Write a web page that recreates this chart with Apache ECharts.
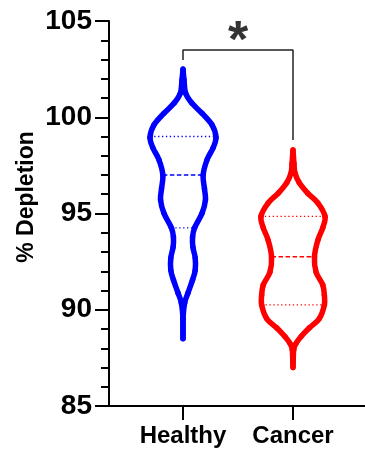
<!DOCTYPE html>
<html>
<head>
<meta charset="utf-8">
<title>% Depletion violin</title>
<script src="https://cdn.jsdelivr.net/npm/echarts@6/dist/echarts.min.js"></script>
<style>
  html, body { margin: 0; padding: 0; background: #fff; }
  #chart { width: 365px; height: 457px; }
</style>
</head>
<body>
<div id="chart"></div>
<script>
// groups on the x axis
var groups = ['Healthy', 'Cancer'];
var groupPos = [1, 2];

// violin outline: depletion level and relative density (widest = 1)
var healthyLevel = [102.5, 101.95, 101.25, 100.75, 100.2, 99.6, 98.95, 98.4, 97.8, 97.0, 96.3, 95.7, 95.03, 94.25, 93.78, 93.25, 92.69, 92.06, 91.55, 90.87, 90.35, 89.5, 88.5];
var healthyDensity = [0, 0.03, 0.08, 0.26, 0.58, 0.88, 1.0, 0.91, 0.73, 0.61, 0.65, 0.68, 0.58, 0.35, 0.29, 0.3, 0.37, 0.37, 0.29, 0.15, 0.05, 0, 0];
var cancerLevel = [98.3, 97.6, 97.1, 96.6, 96.05, 95.55, 94.85, 94.25, 93.6, 92.75, 91.95, 91.3, 90.75, 90.25, 89.55, 89.05, 88.6, 88.25, 87.9, 87.0];
var cancerDensity = [0, 0.03, 0.06, 0.19, 0.45, 0.75, 0.97, 0.9, 0.75, 0.65, 0.7, 0.9, 0.95, 0.95, 0.8, 0.49, 0.24, 0.09, 0.02, 0];

// quartiles: Q1, median, Q3
var healthyQuart = [94.25, 97.0, 99.0];
var cancerQuart = [90.25, 92.75, 94.85];

// significance bracket and y ticks
var bracketLevel = [102.97, 103.49, 98.82];
var starLevel = 103.85;
var yTicks = [85, 90, 95, 100, 105];

var colors = ['#0000ff', '#ff0000'];
var violins = [
  { level: healthyLevel, density: healthyDensity, quart: healthyQuart },
  { level: cancerLevel, density: cancerDensity, quart: cancerQuart }
];
var halfWidth = 0.3; // x units at density 1

// density at a level, linear between outline points
function densityAt(v, level, density) {
  for (var i = 0; i < level.length - 1; i++) {
    var a = level[i], b = level[i + 1];
    if (v <= a && v >= b) {
      var t = (a - v) / (a - b);
      return density[i] + t * (density[i + 1] - density[i]);
    }
  }
  return 0;
}

// smooth outline through pixel points (catmull-rom as bezier pieces)
function curvePieces(pts, color) {
  var out = [];
  var n = pts.length;
  for (var i = 0; i < n - 1; i++) {
    var p0 = pts[Math.max(i - 1, 0)];
    var p1 = pts[i];
    var p2 = pts[i + 1];
    var p3 = pts[Math.min(i + 2, n - 1)];
    out.push({
      type: 'bezierCurve',
      shape: {
        x1: p1[0], y1: p1[1],
        cpx1: p1[0] + (p2[0] - p0[0]) / 6, cpy1: p1[1] + (p2[1] - p0[1]) / 6,
        cpx2: p2[0] - (p3[0] - p1[0]) / 6, cpy2: p2[1] - (p3[1] - p1[1]) / 6,
        x2: p2[0], y2: p2[1]
      },
      style: { fill: null, stroke: color, lineWidth: 5.5, lineCap: 'round' }
    });
  }
  return out;
}

function renderViolin(params, api) {
  var idx = api.value(0);
  var vi = violins[idx];
  var xc = groupPos[idx];
  var left = [], right = [];
  for (var i = 0; i < vi.level.length; i++) {
    var w = vi.density[i] * halfWidth;
    left.push(api.coord([xc - w, vi.level[i]]));
    right.unshift(api.coord([xc + w, vi.level[i]]));
  }
  var children = [];
  // quartile lines (dotted) and median (dashed)
  for (var q = 0; q < 3; q++) {
    var v = vi.quart[q];
    var w2 = densityAt(v, vi.level, vi.density) * halfWidth;
    var p1 = api.coord([xc - w2, v]);
    var p2 = api.coord([xc + w2, v]);
    children.push({
      type: 'line',
      shape: { x1: p1[0], y1: p1[1], x2: p2[0], y2: p2[1] },
      style: {
        stroke: colors[idx],
        lineWidth: q == 1 ? 1.5 : 1.3,
        lineDash: q == 1 ? [4.5, 2.5] : [1.3, 2.6]
      }
    });
  }
  var outline = left.concat(right.slice(1));
  children = children.concat(curvePieces(outline, colors[idx]));
  return { type: 'group', children: children };
}

var chart = echarts.init(document.getElementById('chart'));
var option = {
  animation: false,
  grid: { left: 109, right: 0, top: 21, bottom: 51, containLabel: false },
  xAxis: {
    type: 'value',
    min: 0.3273,
    max: 2.6545,
    splitLine: { show: false },
    axisLine: { lineStyle: { color: '#000', width: 2 } },
    axisTick: { show: true, customValues: groupPos, length: 14, lineStyle: { color: '#000', width: 2 } },
    axisLabel: {
      customValues: groupPos,
      formatter: function (v) { return groups[Math.round(v) - 1]; },
      color: '#000',
      fontSize: 24,
      fontWeight: 'bold',
      fontFamily: 'Liberation Sans',
      margin: 18
    }
  },
  yAxis: {
    type: 'value',
    min: yTicks[0],
    max: yTicks[yTicks.length - 1],
    interval: 5,
    splitLine: { show: false },
    axisLine: { show: true, lineStyle: { color: '#000', width: 2 } },
    axisTick: { show: true, length: 14, lineStyle: { color: '#000', width: 2 } },
    minorTick: { show: true, splitNumber: 5, length: 8, lineStyle: { color: '#000', width: 2 } },
    axisLabel: {
      color: '#000',
      fontSize: 28,
      fontWeight: 'bold',
      fontFamily: 'Liberation Sans',
      margin: 17
    }
  },
  graphic: [{
    type: 'text',
    x: 27,
    y: 197,
    rotation: Math.PI / 2,
    style: {
      text: '% Depletion',
      font: 'bold 23px "Liberation Sans"',
      fill: '#000',
      textAlign: 'center',
      textVerticalAlign: 'middle'
    }
  }],
  series: [
    {
      type: 'custom',
      renderItem: renderViolin,
      clip: false,
      silent: true,
      data: [[0], [1]]
    },
    {
      type: 'line',
      silent: true,
      symbol: 'none',
      lineStyle: { color: '#222', width: 1.5 },
      data: [
        [groupPos[0], bracketLevel[0]],
        [groupPos[0], bracketLevel[1]],
        [groupPos[1], bracketLevel[1]],
        [groupPos[1], bracketLevel[2]]
      ]
    },
    {
      type: 'scatter',
      silent: true,
      symbolSize: 0,
      data: [[(groupPos[0] + groupPos[1]) / 2, starLevel]],
      label: {
        show: true,
        position: 'inside',
        formatter: '*',
        color: '#000',
        fontSize: 52,
        fontWeight: 'bold',
        fontFamily: 'Liberation Sans'
      }
    }
  ]
};
chart.setOption(option);
</script>
</body>
</html>
